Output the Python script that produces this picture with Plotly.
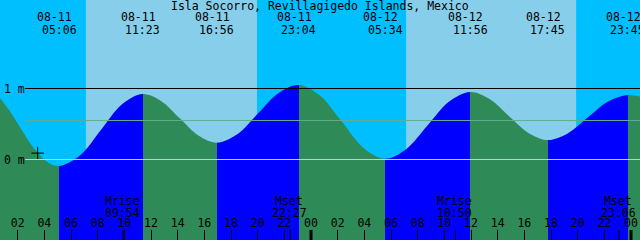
import plotly.graph_objects as go

TITLE = "Isla Socorro, Revillagigedo Islands, Mexico"

# Tide extremes
event_day = ["08-11", "08-11", "08-11", "08-11", "08-12", "08-12", "08-12", "08-12"]
event_clock = ["05:06", "11:23", "16:56", "23:04", "05:34", "11:56", "17:45", "23:45"]
event_height = [-0.092, 0.923, 0.237, 1.049, 0.011, 0.951, 0.275, 0.908]

# Tide curve (hours since 08-11 00:00, metres)
curve_hours = [0.675, 1.40, 2.10, 2.85, 3.60, 4.35, 5.10,
               6.67, 8.24, 9.81, 11.383,
               12.77, 14.16, 15.55, 16.933,
               18.47, 20.00, 21.53, 23.067,
               24.69, 26.32, 27.94, 29.567,
               31.16, 32.75, 34.34, 35.933,
               37.39, 38.84, 40.30, 41.75,
               43.25, 44.75, 46.25, 47.75,
               48.675]
curve_m = [0.867, 0.684, 0.479, 0.255, 0.075, -0.049, -0.092,
           0.056, 0.415, 0.775, 0.923,
           0.822, 0.580, 0.338, 0.237,
           0.355, 0.643, 0.931, 1.049,
           0.897, 0.530, 0.163, 0.011,
           0.149, 0.481, 0.813, 0.951,
           0.851, 0.613, 0.375, 0.275,
           0.367, 0.591, 0.815, 0.908,
           0.886]

# Sun and moon
sunrise = [("08-11", "07:07"), ("08-12", "07:08")]
sunset = [("08-11", "19:57"), ("08-12", "19:53")]
moon_kind = ["Mrise", "Mset", "Mrise", "Mset"]
moon_day = ["08-11", "08-11", "08-12", "08-12"]
moon_clock = ["09:54", "22:27", "10:50", "23:06"]

# Axis
tick_hours = list(range(2, 49, 2))
tick_text = ["02", "04", "06", "08", "10", "12", "14", "16", "18", "20", "22", "00",
             "02", "04", "06", "08", "10", "12", "14", "16", "18", "20", "22", "00"]
midnight_hours = [24, 48]
level_text = ["1 m", "0 m"]
level_value = [1.0, 0.0]
mean_level = 0.549
mark_hour, mark_m = 3.50, 0.09

T0 = 0.675
T1 = T0 + 48
Y_MIN, Y_MAX = -1.1338, 2.2465

DAY = "#87CEEB"
NIGHT = "#00BFFF"
FLOOD = "#0000FF"
EBB = "#2E8B57"
FONT = "DejaVu Sans Mono"
FS = 11.5


def hrs(day, clock):
    d = int(day[3:]) - 11
    h, m = clock.split(":")
    return d * 24 + int(h) + int(m) / 60.0


ev_t = [hrs(d, c) for d, c in zip(event_day, event_clock)]

# fill gradient: rising = flood (blue), falling = ebb (green)
bounds = [T0] + ev_t + [T1]
cs = []
for i in range(len(bounds) - 1):
    a, b = bounds[i], bounds[i + 1]
    if i == 0:
        col = FLOOD if event_height[0] > curve_m[0] else EBB
    elif i < len(event_height):
        col = FLOOD if event_height[i] > event_height[i - 1] else EBB
    else:
        col = FLOOD if curve_m[-1] > event_height[-1] else EBB
    cs.append([(a - T0) / (T1 - T0), col])
    cs.append([(b - T0) / (T1 - T0), col])
cs[0][0] = 0.0
cs[-1][0] = 1.0

fig = go.Figure()
fig.add_trace(go.Scatter(x=[T0, T1], y=[Y_MIN - 0.1, Y_MIN - 0.1], mode="lines",
                         line=dict(width=0), hoverinfo="skip", showlegend=False))
fig.add_trace(go.Scatter(x=curve_hours, y=curve_m, mode="lines",
                         line=dict(width=1, color="rgba(0,0,0,0)", shape="spline", smoothing=1.0),
                         fill="tonexty",
                         fillgradient=dict(type="horizontal", colorscale=cs, start=T0, stop=T1),
                         hoverinfo="skip", showlegend=False))
fig.add_trace(go.Scatter(x=[mark_hour], y=[mark_m], mode="markers",
                         marker=dict(symbol="cross-thin", size=9, line=dict(width=1, color="black")),
                         hoverinfo="skip", showlegend=False))

shapes = []
for (d1, c1), (d2, c2) in zip(sunrise, sunset):
    shapes.append(dict(type="rect", layer="below", xref="x", yref="paper",
                       x0=hrs(d1, c1), x1=hrs(d2, c2), y0=0, y1=1,
                       fillcolor=DAY, line=dict(width=0)))
shapes.append(dict(type="line", xref="paper", yref="y", x0=25 / 640, x1=1,
                   y0=level_value[0], y1=level_value[0], line=dict(color="black", width=1)))
shapes.append(dict(type="line", xref="paper", yref="y", x0=25 / 640, x1=1,
                   y0=mean_level, y1=mean_level, line=dict(color="#5FAE8F", width=1)))
shapes.append(dict(type="line", xref="paper", yref="y", x0=25 / 640, x1=1,
                   y0=level_value[1], y1=level_value[1], line=dict(color="#A8D8E8", width=1)))
for mh in midnight_hours:
    shapes.append(dict(type="line", xref="x", yref="paper", x0=mh, x1=mh,
                       y0=0, y1=10 / 240, line=dict(color="black", width=3)))
for d, c in zip(moon_day, moon_clock):
    t = hrs(d, c)
    shapes.append(dict(type="line", xref="x", yref="paper", x0=t, x1=t,
                       y0=0, y1=10 / 240, line=dict(color="black", width=1)))

ann = []


def txt(x, ypx, s, xref="x", xanchor="center", xshift=0):
    ann.append(dict(x=x, y=1 - ypx / 240, xref=xref, yref="paper", text=s, showarrow=False,
                    xanchor=xanchor, yanchor="middle", xshift=xshift,
                    font=dict(family=FONT, size=FS, color="black")))


txt(0.5, 5.5, TITLE, xref="paper")
for d, c, t in zip(event_day, event_clock, ev_t):
    txt(t, 17.5, d, xshift=-4.5)
    txt(t, 29.5, c)
for k, d, c in zip(moon_kind, moon_day, moon_clock):
    t = hrs(d, c)
    txt(t, 201.3, k, xshift=-1)
    txt(t, 212.8, c, xshift=-1)
for s, v in zip(level_text, level_value):
    ann.append(dict(x=0.003, y=v, xref="paper", yref="y", text=s, showarrow=False,
                    xanchor="left", yanchor="middle",
                    font=dict(family=FONT, size=FS, color="black")))

fig.update_layout(
    width=640, height=240, autosize=False,
    margin=dict(l=0, r=0, t=0, b=0, pad=0),
    paper_bgcolor=NIGHT, plot_bgcolor=NIGHT,
    shapes=shapes, annotations=ann, showlegend=False,
    xaxis=dict(range=[T0, T1], tickmode="array", tickvals=tick_hours, ticktext=tick_text,
               ticks="inside", ticklen=10, tickwidth=1, tickcolor="black",
               ticklabelposition="inside", showgrid=False, zeroline=False, showline=False,
               tickfont=dict(family=FONT, size=FS, color="black"), fixedrange=True),
    yaxis=dict(range=[Y_MIN, Y_MAX], visible=False, fixedrange=True),
)

fig.write_html("out.html", config={"displayModeBar": False})
